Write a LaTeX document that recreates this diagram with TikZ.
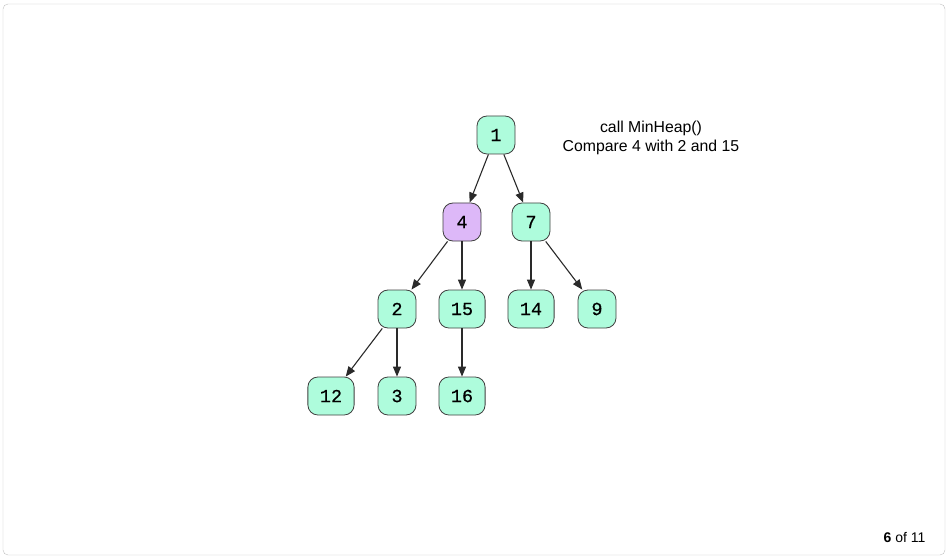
\documentclass[tikz,border=0pt]{standalone}
\usepackage{fontspec}
\setmainfont{Liberation Sans}
\newfontfamily\heapfont[FakeBold=0.6]{Liberation Mono}
\usetikzlibrary{arrows.meta,positioning}
\definecolor{mint}{HTML}{AEFCDC}
\definecolor{lilac}{HTML}{DDB8F8}
\definecolor{edgegray}{HTML}{2A2A2A}
\tikzset{
  heap/.style    = {draw=black!75, fill=mint, rounded corners=10bp, line width=0.8bp,
                   minimum width=38bp, minimum height=38bp, inner xsep=12bp,
                   font=\heapfont\fontsize{18.5bp}{20bp}\selectfont},
  current/.style = {heap, fill=lilac},
  note/.style    = {align=center, font=\fontsize{15.8bp}{19bp}\selectfont}
}

\begin{document}
\begin{tikzpicture}[x=1bp, y=-1bp,
  node distance=87bp,
  >={Triangle[length=10bp,width=8bp]}]

% frame of the slide
\useasboundingbox (0,0) rectangle (950,560);
\draw[black!25, rounded corners=5bp] (3,4) rectangle (945,555);

% the heap, level by level
\node[heap] (n1) at (496,135) {1};
\node[current, below of = n1, xshift=-34bp] (n4) {4};
\node[heap, below of = n1, xshift=35bp] (n7) {7};

\node[heap, below of = n4, xshift=-65bp] (n2) {2};
\node[heap, below of = n4] (n15) {15};
\node[heap, below of = n7] (n14) {14};
\node[heap, below of = n7, xshift=66bp] (n9) {9};

\node[heap, below of = n2, xshift=-66bp] (n12) {12};
\node[heap, below of = n2] (n3) {3};
\node[heap, below of = n15] (n16) {16};

\foreach \from/\to in {1/4,1/7,4/2,4/15,7/14,7/9,2/12,2/3,15/16}
  \draw[->, edgegray, line width=1.1bp] (n\from) -- (n\to);

% step text
\node[note] (msg) at (651,138) {call MinHeap()\\Compare 4 with 2 and 15};
\node[anchor=east, font=\fontsize{14bp}{16bp}\selectfont] (page) at (929,538) {\textbf{6} of 11};
\end{tikzpicture}
\end{document}
